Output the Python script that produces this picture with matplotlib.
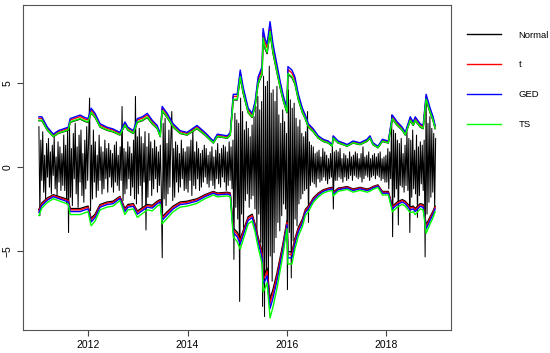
import numpy as np
import matplotlib
matplotlib.use('Agg')
import matplotlib.pyplot as plt

plt.rcParams['font.family'] = ['Liberation Sans', 'DejaVu Sans']

# weekly returns (52 values each)
r2011 = [2.4, -2.9, 1.6, -0.8, 2.1, -1.5, 0.7, -1.9,
         1.4, -0.6, 1.7, -1.2, 0.9, -1.6, 1.3, -0.5,
         1.8, -1.3, 0.6, -1.7, 1.5, -0.9, 1.2, -1.4,
         0.8, -1.1, 1.9, -1.4, 1.3, -2.2, 2.3, -3.9,
         2.5, -1.8, 1.1, -2.3, 2.0, -0.7, 2.6, -1.6,
         1.2, -2.4, 1.9, -0.9, 2.2, -1.7, 0.8, -2.1, 1.6, -1.3, 2.4, -0.8]
r2012 = [1.7, 4.1, -2.6, 1.3, -1.9, 2.2, -0.9, 1.5,
         -1.8, 0.7, -1.4, 1.9, -0.8, 1.2, -1.6, 0.9,
         -1.3, 1.6, -0.7, 1.1, -1.5, 1.4, -0.6, 1.0,
         -1.2, 0.8, -1.5, 1.3, -0.9, 1.5, -1.1, 0.7,
         -1.4, 1.2, -0.8, 3.6, -2.0, 1.1, -1.6, 0.9,
         -1.3, 1.5, -0.7, 1.2, -1.7, 0.8, -1.2, 1.6, -1.9, 4.2, -2.2, 1.8]
r2013 = [-1.6, 2.3, -1.1, 1.8, -2.4, 1.4, -0.9, 2.1,
         -3.75, 1.2, -1.8, 2.0, -0.8, 1.5, -1.7, 1.1,
         -1.3, 1.6, -0.7, 1.2, -1.5, 0.9, -1.1, 1.3,
         -1.2, -5.4, 2.6, -1.9, 2.9, -2.3, 1.4, -1.6,
         2.2, -1.2, 1.7, 3.3, -2.0, 1.1, -1.8, 1.5,
         -0.9, 1.3, -1.5, 0.8, -1.2, 1.6, -0.7, 1.1, -1.4, 0.9, -1.3, 1.2]
r2014 = [-1.5, 1.2, -0.8, 1.6, -1.7, 2.3, -1.1, 0.9,
         -1.3, 1.5, -0.7, 1.1, -1.4, 0.8, -1.2, 1.0,
         -0.9, 1.3, -0.6, 1.1, -1.0, 0.7, -1.2, 0.9,
         -0.8, 1.2, -1.1, 0.6, -1.3, 1.0, -0.7, 1.4,
         -1.0, 0.8, -1.2, 1.1, -0.6, 1.3, -0.9, 1.2,
         -1.4, 0.9, -1.1, 1.5, -0.8, 1.2, -1.3, 1.6, -5.5, 3.2, -2.4, 2.8]
r2015 = [-3.1, 2.6, -8.0, 4.1, -2.8, 3.3, -3.6, 2.2,
         -2.0, 2.7, -1.6, 2.3, -2.4, 1.8, -1.9, 2.5,
         -1.7, 3.0, -2.5, 3.6, -3.9, 4.2, -2.8, 3.4,
         -4.5, 3.9, -8.3, 5.4, -8.9, 4.8, -6.2, 5.1,
         -7.6, 6.0, -5.3, 4.4, -6.8, 4.6, -5.1, 3.9,
         -4.2, 4.8, -3.3, 3.1, -3.8, 2.6, -2.9, 3.4, -2.2, 2.7, -2.5, 2.0]
r2016 = [-7.3, 4.6, -3.9, 4.0, -6.6, 3.5, -4.4, 3.8,
         -3.1, 2.9, -3.5, 2.4, -2.2, 2.8, -1.9, 2.0,
         -1.6, 1.8, -1.4, 2.1, -1.3, 3.3, -3.3, 1.5,
         -1.1, 1.3, -0.9, 1.2, -1.0, 0.8, -1.2, 0.9,
         -0.7, 1.0, -0.9, 0.6, -0.8, 1.1, -0.6, 0.9,
         -0.8, 0.7, -1.0, 0.5, -0.7, 0.8, -0.6, 1.2, -2.5, 0.9, -0.8, 1.0]
r2017 = [-0.8, 0.9, -0.6, 1.1, -0.7, 0.5, -0.9, 0.8,
         -0.6, 0.7, -0.8, 0.5, -0.7, 0.9, -0.5, 0.6,
         -0.8, 0.7, -0.5, 0.9, -0.6, 0.8, -0.7, 0.5,
         -0.6, 0.8, -0.9, 1.2, -0.7, 0.6, -0.5, 0.7,
         -0.6, 0.9, -0.8, 0.5, -0.6, 0.7, -0.5, 0.8,
         -0.7, 0.6, -0.5, 0.8, -0.6, 0.9, -0.8, 0.5, -0.7, 0.6, -0.9, 0.7]
r2018 = [-0.9, 1.1, -1.3, 0.9, -0.7, 3.1, -4.15, 2.2,
         -1.8, 2.0, -1.3, 1.6, -3.45, 1.4, -1.1, 1.7,
         -1.2, 0.8, -1.5, 1.3, -1.1, 2.1, -1.4, 1.7,
         -3.9, 1.6, -1.8, 2.2, -1.3, 1.0, -1.6, 1.9,
         -3.0, 1.2, -1.7, 1.5, -1.0, 1.3, -1.4, 1.6,
         -5.35, 4.0, -2.8, 2.6, -2.1, 3.0, -1.8, 2.3, -1.5, 2.0, -2.4, 1.7]
years = [2011, 2012, 2013, 2014, 2015, 2016, 2017, 2018]
returns = [r2011, r2012, r2013, r2014, r2015, r2016, r2017, r2018]

# VaR bands (t distribution), read at knots
band_t = [2011.01, 2011.07, 2011.18, 2011.30, 2011.40, 2011.50, 2011.60, 2011.64, 2011.74, 2011.84,
          2011.94, 2012.00, 2012.06, 2012.14, 2012.24, 2012.38, 2012.50, 2012.64, 2012.74, 2012.80,
          2012.91, 2012.99, 2013.09, 2013.19, 2013.29, 2013.39, 2013.45, 2013.49, 2013.59, 2013.71,
          2013.85, 2013.99, 2014.19, 2014.35, 2014.52, 2014.60, 2014.80, 2014.86, 2014.92, 2015.00,
          2015.06, 2015.12, 2015.22, 2015.30, 2015.36, 2015.42, 2015.50, 2015.52, 2015.56, 2015.60,
          2015.66, 2015.72, 2015.80, 2015.86, 2015.92, 2016.00, 2016.02, 2016.10, 2016.16, 2016.23,
          2016.31, 2016.37, 2016.43, 2016.53, 2016.63, 2016.73, 2016.83, 2016.91, 2016.93, 2017.03,
          2017.13, 2017.21, 2017.33, 2017.47, 2017.61, 2017.67, 2017.73, 2017.83, 2017.92, 2018.04,
          2018.12, 2018.22, 2018.32, 2018.38, 2018.48, 2018.54, 2018.58, 2018.68, 2018.74, 2018.80,
          2018.88, 2018.94, 2018.98]
upper = [2.9, 2.9, 2.3, 1.9, 2.1, 2.2, 2.3, 2.8, 2.9, 3.0,
         2.85, 2.8, 3.4, 3.1, 2.5, 2.3, 2.2, 2.0, 2.6, 2.3,
         2.1, 2.8, 2.9, 3.1, 2.7, 2.4, 1.9, 3.5, 3.1, 2.5,
         2.1, 2.0, 2.4, 2.0, 1.5, 1.9, 1.8, 2.0, 4.2, 4.2,
         5.6, 4.6, 3.4, 3.1, 3.8, 5.2, 5.8, 8.0, 7.4, 7.1,
         8.4, 7.1, 5.9, 5.0, 4.2, 3.4, 5.8, 5.6, 5.2, 4.2,
         3.4, 3.0, 2.5, 2.2, 1.8, 1.6, 1.5, 1.3, 1.8, 1.5,
         1.4, 1.3, 1.5, 1.4, 1.6, 1.8, 1.4, 1.2, 1.6, 1.5,
         3.0, 2.6, 2.3, 2.0, 2.9, 2.6, 2.9, 2.5, 2.4, 4.2,
         3.4, 2.9, 2.4]
lower = [-2.6, -2.2, -1.9, -1.7, -1.8, -1.9, -2.0, -2.55, -2.55, -2.55,
         -2.45, -2.4, -3.15, -2.9, -2.3, -2.15, -2.1, -1.8, -2.55, -2.3,
         -2.25, -2.7, -2.5, -2.3, -2.35, -2.1, -2.0, -3.05, -2.75, -2.4,
         -2.15, -2.1, -1.95, -1.7, -1.5, -1.6, -1.55, -1.6, -3.75, -4.0,
         -4.4, -3.9, -3.05, -2.9, -3.5, -4.3, -5.2, -6.7, -6.5, -6.2,
         -8.1, -7.5, -6.5, -5.6, -4.7, -3.3, -5.2, -5.2, -4.4, -3.7,
         -3.2, -2.6, -2.4, -1.9, -1.6, -1.4, -1.3, -1.25, -1.55, -1.3,
         -1.25, -1.2, -1.35, -1.25, -1.35, -1.3, -1.2, -1.1, -1.5, -1.5,
         -2.4, -2.15, -2.0, -2.1, -2.45, -2.4, -2.55, -2.25, -2.3, -3.55,
         -3.05, -2.7, -2.4]

# quantile ratio of each distribution relative to t (upper, lower)
dists = ['Normal', 't', 'GED', 'TS']
colors = ['black', 'red', 'blue', '#00ff00']
ratio_up = [0.95, 1.0, 1.03, 0.96]
ratio_low = [0.97, 1.0, 1.04, 1.11]

fig = plt.figure(figsize=(5.5, 3.53), dpi=100)
ax = fig.add_axes([23 / 550, 1 - 330 / 353, 428 / 550, 325 / 353])

x = np.concatenate([y + np.arange(52) / 52 + 0.01 for y in years])
r = np.concatenate(returns)
ax.plot(x, r, color='black', lw=0.75)

bt = np.array(band_t)
for name, c, fu, fl in zip(dists, colors, ratio_up, ratio_low):
    ax.plot(bt, np.array(upper) * fu, color=c, lw=1.0, label=name)
    ax.plot(bt, np.array(lower) * fl, color=c, lw=1.0)

ax.set_xlim(2010.69, 2019.30)
ax.set_ylim(-9.7, 9.64)
ax.set_xticks([2012, 2014, 2016, 2018])
ax.set_yticks([-5, 0, 5])
ax.tick_params(labelsize=7.5, length=4, color='#444444')
for lab in ax.get_yticklabels():
    lab.set_rotation(90)
    lab.set_va('center')
for s in ax.spines.values():
    s.set_color('#555555')
    s.set_linewidth(0.8)

fig.legend(loc='upper left', bbox_to_anchor=(458 / 550, 1 - 22 / 353), frameon=False,
           fontsize=6.8, handlelength=3.6, handletextpad=1.9, labelspacing=2.2)

plt.savefig('out.png', dpi=100)
